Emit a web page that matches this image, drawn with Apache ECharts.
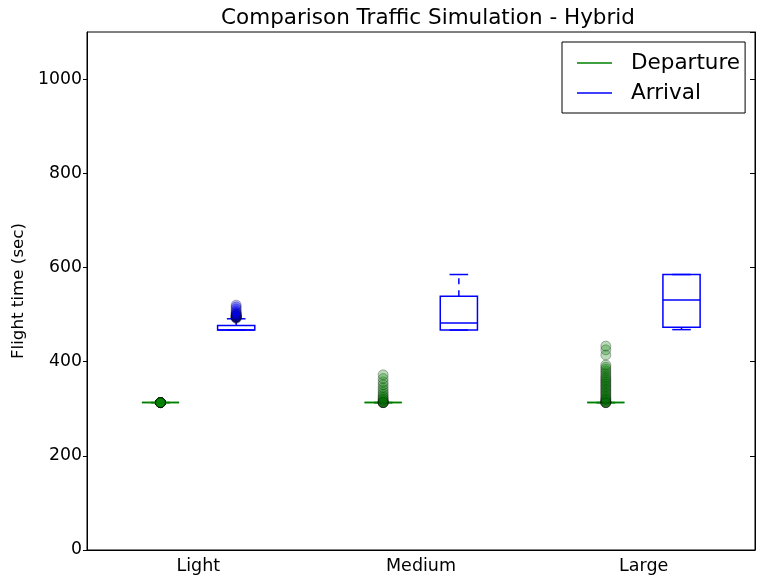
<!DOCTYPE html>
<html><head><meta charset="utf-8">
<script src="https://cdn.jsdelivr.net/npm/echarts@6/dist/echarts.min.js"></script>
<style>html,body{margin:0;padding:0;background:#fff}#c{width:758px;height:579px}</style>
</head><body><div id="c"></div>
<script>
const categories = ['Light', 'Medium', 'Large'];
// [min, Q1, median, Q3, max]
const departureBox = [[313, 313, 313, 313, 313], [313, 313, 313, 313, 313], [313, 313, 313, 313, 313]];
const arrivalBox = [[467, 467, 467, 477, 491], [467, 467, 482, 539, 585], [468, 473, 531, 585, 585]];
const departureOutliers = [
  [313, 313, 313, 313, 313, 313, 313, 313, 313, 313, 313, 313],
  [313, 313, 313, 313, 313, 315, 317, 319, 321, 324, 327, 331, 335, 340, 345, 351, 357, 364, 372],
  [313, 313, 313, 313, 315, 317, 319, 321, 323, 326, 329, 332, 335, 338, 341, 344, 347, 350, 353, 356, 359, 362, 365, 368, 372, 376, 380, 384, 388, 393, 414, 425, 433]
];
const arrivalOutliers = [
  [492, 493, 494, 494, 495, 495, 496, 496, 497, 498, 499, 500, 501, 503, 505, 508, 512, 516, 520],
  [],
  []
];
const yMin = 0, yMax = 1100, yStep = 200;

const GREEN = '#008000', BLUE = '#0000ff';
const OFF = 0.17, BOXW = 0.167;

function boxRenderer(offset, color) {
  return function (params, api) {
    const ci = api.value(0);
    const band = api.size([1, 0])[0];
    const cx = api.coord([ci, 0])[0] + offset * band;
    const w = BOXW * band, cw = w / 2;
    const y = k => api.coord([ci, api.value(k)])[1];
    const yLo = y(1), yQ1 = y(2), yMed = y(3), yQ3 = y(4), yHi = y(5);
    const ls = { stroke: color, lineWidth: 1.5, fill: null };
    const dash = { stroke: color, lineWidth: 1.5, lineDash: [6, 6] };
    return {
      type: 'group',
      children: [
        { type: 'line', shape: { x1: cx, y1: yQ3, x2: cx, y2: yHi }, style: dash },
        { type: 'line', shape: { x1: cx, y1: yQ1, x2: cx, y2: yLo }, style: dash },
        { type: 'line', shape: { x1: cx - cw / 2, y1: yHi, x2: cx + cw / 2, y2: yHi }, style: ls },
        { type: 'line', shape: { x1: cx - cw / 2, y1: yLo, x2: cx + cw / 2, y2: yLo }, style: ls },
        { type: 'rect', shape: { x: cx - w / 2, y: yQ3, width: w, height: yQ1 - yQ3 }, style: ls },
        { type: 'line', shape: { x1: cx - w / 2, y1: yMed, x2: cx + w / 2, y2: yMed }, style: ls }
      ]
    };
  };
}
function flierRenderer(offset, color) {
  return function (params, api) {
    const ci = api.value(0);
    const band = api.size([1, 0])[0];
    const p = api.coord([ci, api.value(1)]);
    return {
      type: 'circle',
      shape: { cx: p[0] + offset * band, cy: p[1], r: 5 },
      style: { fill: color, stroke: '#000', lineWidth: 1, opacity: 0.28 }
    };
  };
}
const boxData = arr => arr.map((b, i) => [i].concat(b));
const flierData = arr => {
  const out = [];
  arr.forEach((vals, i) => vals.forEach(v => out.push([i, v])));
  return out;
};

const chart = echarts.init(document.getElementById('c'), null, { renderer: 'canvas' });
const FONT = 'DejaVu Sans';
chart.setOption({
  animation: false,
  textStyle: { fontFamily: FONT },
  title: {
    text: 'Comparison Traffic Simulation - Hybrid',
    left: 423, top: 2, textAlign: 'center',
    textStyle: { fontFamily: FONT, fontSize: 21.5, fontWeight: 'normal', color: '#000' }
  },
  legend: {
    left: 562, top: 42, orient: 'vertical',
    backgroundColor: '#fff', borderColor: '#000', borderWidth: 1, borderRadius: 0,
    padding: [10, 5, 9, 15], itemGap: 8, itemWidth: 35, itemHeight: 1.5, icon: 'rect',
    data: ['Departure', 'Arrival'],
    textStyle: { fontFamily: FONT, fontSize: 21.5, color: '#000', padding: [0, 0, 0, 14] }
  },
  grid: { left: 87, right: 3, top: 32, bottom: 29, show: true, borderColor: '#000', borderWidth: 1, backgroundColor: 'transparent' },
  xAxis: {
    type: 'category', data: categories,
    axisLine: { lineStyle: { color: '#000', width: 1 } },
    axisTick: { show: false },
    axisLabel: { color: '#000', fontSize: 17.5, fontFamily: FONT, margin: 7 },
    splitLine: { show: false }
  },
  yAxis: [
    {
      type: 'value', min: yMin, max: yMax, interval: yStep,
      name: 'Flight time (sec)', nameLocation: 'middle', nameGap: 58, nameRotate: 90,
      nameTextStyle: { fontFamily: FONT, fontSize: 16.7, color: '#000' },
      axisLine: { show: true, lineStyle: { color: '#000', width: 1 } },
      axisTick: { show: true, length: 4, lineStyle: { color: '#000' } },
      axisLabel: { color: '#000', fontSize: 17.3, fontFamily: FONT, margin: 5, showMaxLabel: false,
        formatter: v => (v % yStep === 0 ? String(v) : '') },
      splitLine: { show: false }
    },
    {
      type: 'value', min: yMin, max: yMax, interval: yStep, position: 'right',
      axisLine: { show: true, lineStyle: { color: '#000', width: 1 } },
      axisTick: { show: true, inside: true, length: 5, lineStyle: { color: '#000' } },
      axisLabel: { show: false },
      splitLine: { show: false }
    }
  ],
  series: [
    { name: 'Departure', type: 'custom', itemStyle: { color: GREEN }, renderItem: boxRenderer(-OFF, GREEN), data: boxData(departureBox), encode: { x: 0, y: [1, 2, 3, 4, 5] }, z: 2 },
    { name: 'Arrival', type: 'custom', itemStyle: { color: BLUE }, renderItem: boxRenderer(OFF, BLUE), data: boxData(arrivalBox), encode: { x: 0, y: [1, 2, 3, 4, 5] }, z: 2 },
    { name: 'Departure', type: 'custom', itemStyle: { color: GREEN }, renderItem: flierRenderer(-OFF, GREEN), data: flierData(departureOutliers), encode: { x: 0, y: 1 }, z: 3 },
    { name: 'Arrival', type: 'custom', itemStyle: { color: BLUE }, renderItem: flierRenderer(OFF, BLUE), data: flierData(arrivalOutliers), encode: { x: 0, y: 1 }, z: 3 }
  ]
});
</script></body></html>
